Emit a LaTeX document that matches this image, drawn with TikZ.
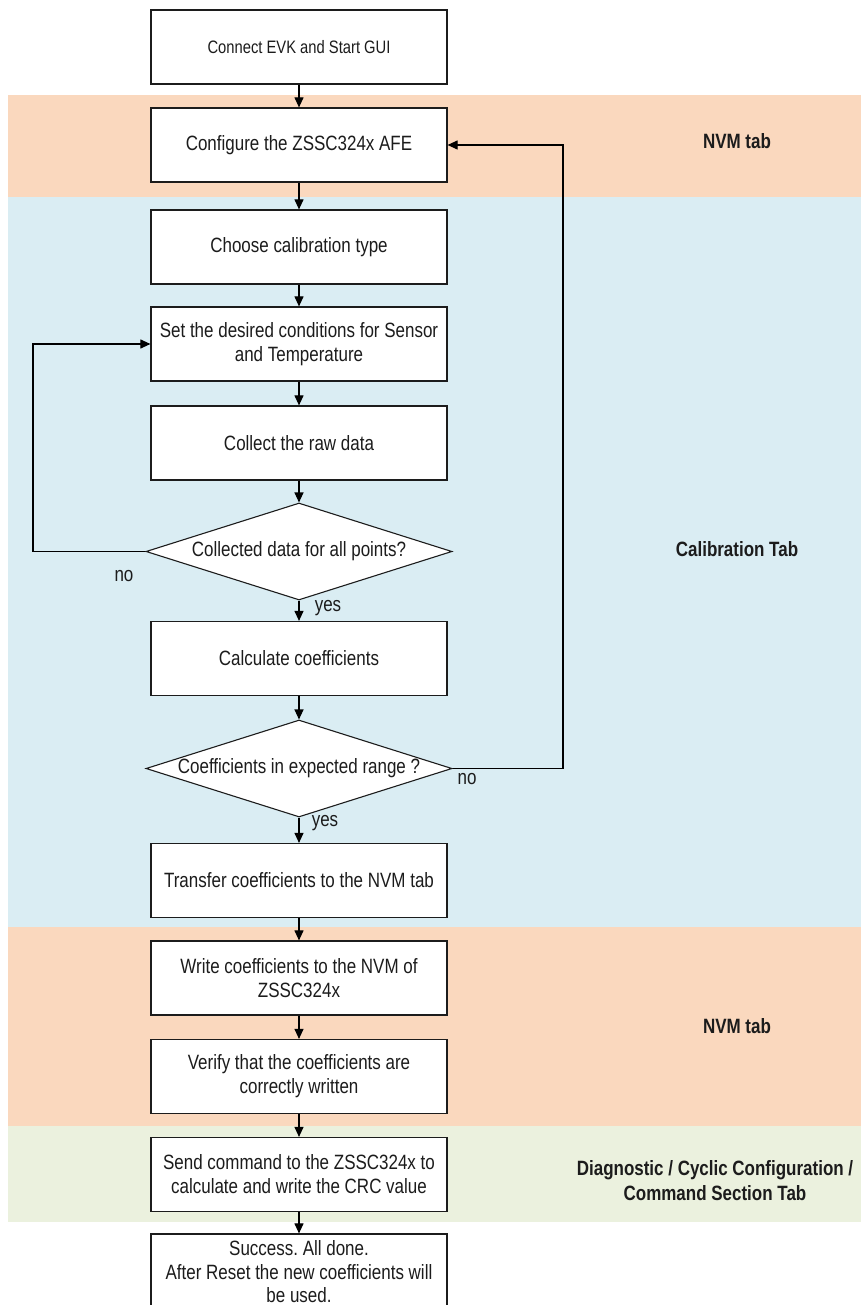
\documentclass[tikz,border=0pt]{standalone}
\usepackage{fontspec}
\setmainfont{Liberation Sans}[FakeStretch=0.82]
\usetikzlibrary{shapes.geometric,arrows.meta}
\definecolor{peach}{RGB}{250,216,190}
\definecolor{paleblue}{RGB}{218,237,243}
\definecolor{palegreen}{RGB}{235,241,222}
\definecolor{ink}{RGB}{28,28,28}
\frenchspacing
\begin{document}
\begin{tikzpicture}[x=1pt,y=-1pt,
  txt/.style={text=ink,font=\fontsize{20.7}{24}\selectfont},
  box/.style={txt,draw=ink,line width=1.2pt,fill=white,minimum width=296pt,minimum height=74pt,inner sep=0pt,align=center},
  dec/.style={txt,diamond,draw=ink,line width=1.1pt,fill=white,minimum width=306pt,minimum height=97pt,inner sep=0pt,shape aspect=3.15},
  arr/.style={line width=1.1pt,draw=black,-{Triangle[length=10pt,width=9pt]}},
  lab/.style={txt},
  tab/.style={text=ink,font=\bfseries\fontsize{20.7}{25}\selectfont,align=center}]
\useasboundingbox (0,0) rectangle (861,1305);
\clip (0,0) rectangle (861,1305);
\fill[peach] (8,95) rectangle (861,197);
\fill[paleblue] (8,197) rectangle (861,927);
\fill[peach] (8,927) rectangle (861,1126);
\fill[palegreen] (8,1126) rectangle (861,1222);

\node[box,font=\fontsize{18}{22}\selectfont] (n1) at (299,47) {Connect EVK and Start GUI};
\node[box] (n2) at (299,145) {Configure the ZSSC324x AFE};
\node[box] (n3) at (299,247) {Choose calibration type};
\node[box] (n4) at (299,344) {Set the desired conditions for Sensor\\and Temperature};
\node[box] (n5) at (299,443) {Collect the raw data};
\node[dec] (d1) at (299,551.5) {Collected data for all points?};
\node[box] (n6) at (299,658.5) {Calculate coefficients};
\node[dec] (d2) at (299,768.5) {Coefficients in expected range ?};
\node[box] (n7) at (299,880.5) {Transfer coefficients to the NVM tab};
\node[box] (n8) at (299,978) {Write coefficients to the NVM of\\ZSSC324x};
\node[box] (n9) at (299,1076.5) {Verify that the coefficients are\\correctly written};
\node[box] (n10) at (299,1174.5) {Send command to the ZSSC324x to\\calculate and write the CRC value};
\node[box,font=\fontsize{20.7}{23.5}\selectfont,minimum height=76pt] (n11) at (299,1272) {Success. All done.\\After Reset the new coefficients will\\be used.};

\draw[arr] (n1) -- (n2);
\draw[arr] (n2) -- (n3);
\draw[arr] (n3) -- (n4);
\draw[arr] (n4) -- (n5);
\draw[arr] (n5) -- (d1);
\draw[arr] (d1) -- (n6);
\draw[arr] (n6) -- (d2);
\draw[arr] (d2) -- (n7);
\draw[arr] (n7) -- (n8);
\draw[arr] (n8) -- (n9);
\draw[arr] (n9) -- (n10);
\draw[arr] (n10) -- (n11);

\coordinate (lc) at (33,450);
\coordinate (rc) at (563,450);
\draw[arr] (d1.west) -| (lc) |- (n4.west);
\draw[arr] (d2.east) -| (rc) |- (n2.east);

\node[lab] (no1) at (124,576) {no};
\node[lab] (yes1) at (328,608) {yes};
\node[lab] (no2) at (467,779) {no};
\node[lab] (yes2) at (325,823) {yes};

\node[tab] (t1) at (737,141) {NVM tab};
\node[tab] (t2) at (737,549) {Calibration Tab};
\node[tab] (t3) at (737,1026) {NVM tab};
\node[tab] (t4) at (715,1181) {Diagnostic / Cyclic Configuration /\\Command Section Tab};
\end{tikzpicture}
\end{document}
